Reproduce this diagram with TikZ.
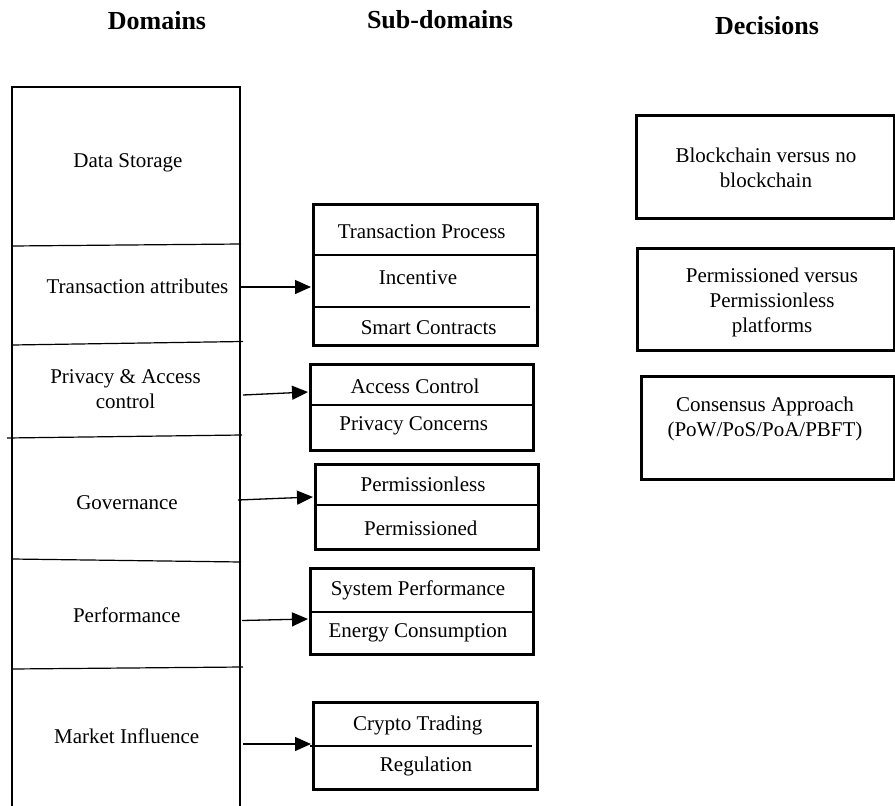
\documentclass[tikz,border=0pt]{standalone}
\usepackage{fontspec}
\setmainfont{Liberation Serif}
\usetikzlibrary{arrows.meta}
\begin{document}
\begin{tikzpicture}[x=1pt,y=-1pt,
  lbl/.style={font=\fontsize{21}{25}\selectfont, align=center, inner sep=0pt},
  hdr/.style={font=\fontsize{26}{30}\selectfont\bfseries, inner sep=0pt, anchor=base},
  frame/.style={draw, line width=2.6pt},
  boxn/.style={draw, line width=2.5pt, inner sep=0pt, rectangle, anchor=north west},
  sepline/.style={line width=1.2pt},
  arr/.style={line width=1.3pt, -{Triangle[length=16pt,width=14pt]}}
]
\useasboundingbox (0,0) rectangle (895,806);
\fill[white] (0,0) rectangle (895,806);

% headers
\node[hdr] (h1) at (157,29) {Domains};
\node[hdr] (h2) at (440,28) {Sub-domains};
\node[hdr] (h3) at (767,34) {Decisions};

% domains column
\draw[frame] (12,806) -- (12,87) -- (240,87) -- (240,806);
\draw[sepline] (12,246) -- (241,244);
\draw[sepline] (12,345) -- (243,341.5);
\draw[sepline] (7,438) -- (242,435);
\draw[sepline] (12,559) -- (241,562);
\draw[sepline] (12,669) -- (243,667);

\node[lbl] (d1) at (128,163) {Data Storage};
\node[lbl] (d2) at (137.5,286) {Transaction attributes};
\node[lbl] (d3) at (125.5,389) {Privacy \& Access\\control};
\node[lbl] (d4) at (127,503) {Governance};
\node[lbl] (d5) at (126.7,615) {Performance};
\node[lbl] (d6) at (126.7,736) {Market Influence};

% sub-domain boxes
\node[boxn, minimum width=224pt, minimum height=141pt] (s1) at (312,203) {};
\draw[sepline] (312,255) -- (536,255);
\draw[sepline] (312,307) -- (530,307);
\node[lbl] (s1a) at (421.7,232) {Transaction Process};
\node[lbl] (s1b) at (418,278) {Incentive};
\node[lbl] (s1c) at (428.7,328) {Smart Contracts};

\node[boxn, minimum width=223pt, minimum height=86pt] (s2) at (309,363) {};
\draw[sepline] (309,405) -- (535,405);
\node[lbl] (s2a) at (415,386) {Access Control};
\node[lbl] (s2b) at (413.8,426) {Privacy Concerns};

\node[boxn, minimum width=223pt, minimum height=85pt] (s3) at (314,463) {};
\draw[sepline] (314,505) -- (537,505);
\node[lbl] (s3a) at (423,484) {Permissionless};
\node[lbl] (s3b) at (420.8,528) {Permissioned};

\node[boxn, minimum width=223pt, minimum height=86pt] (s4) at (309,567) {};
\draw[sepline] (309,612) -- (532,612);
\node[lbl] (s4a) at (418,590) {System Performance};
\node[lbl] (s4b) at (418,633) {Energy Consumption};

\node[boxn, minimum width=224pt, minimum height=87pt] (s5) at (312,701) {};
\draw[sepline] (310,746) -- (532,746);
\node[lbl] (s5a) at (417.8,725) {Crypto Trading};
\node[lbl] (s5b) at (426,766) {Regulation};

% decision boxes
\node[boxn, minimum width=258pt, minimum height=103pt] (c1) at (635,114) {};
\node[lbl] (c1t) at (766,168) {Blockchain versus no\\blockchain};
\node[boxn, minimum width=257pt, minimum height=102pt] (c2) at (636,247) {};
\node[lbl] (c2t) at (772,302.5) {Permissioned versus\\Permissionless\\platforms};
\node[boxn, minimum width=253pt, minimum height=103pt] (c3) at (640,375) {};
\node[lbl] (c3t) at (765,419) {Consensus Approach\\(PoW/PoS/PoA/PBFT)};

% arrows
\coordinate (a1s) at (241,287);   \coordinate (a1e) at (311,287);
\coordinate (a2s) at (243,395);   \coordinate (a2e) at (308,392);
\coordinate (a3s) at (238,500);   \coordinate (a3e) at (313,497);
\coordinate (a4s) at (242,620.5); \coordinate (a4e) at (308,619);
\coordinate (a5s) at (243,744);   \coordinate (a5e) at (311,744);
\draw[arr] (a1s) -- (a1e);
\draw[arr] (a2s) -- (a2e);
\draw[arr] (a3s) -- (a3e);
\draw[arr] (a4s) -- (a4e);
\draw[arr] (a5s) -- (a5e);
\end{tikzpicture}
\end{document}
